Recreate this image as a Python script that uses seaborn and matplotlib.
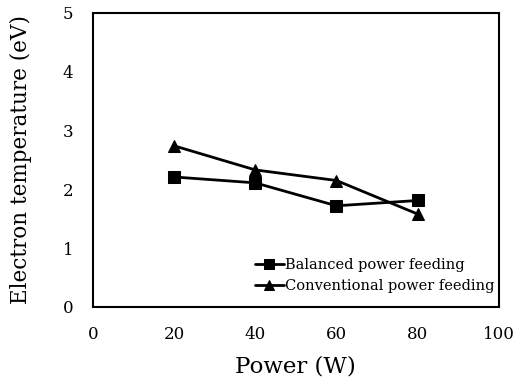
import matplotlib
matplotlib.use("Agg")
import matplotlib.pyplot as plt
import seaborn as sns
import pandas as pd

power = [20, 40, 60, 80]
balanced = [2.21, 2.11, 1.72, 1.81]
conventional = [2.74, 2.33, 2.15, 1.58]
series_names = ["Balanced power feeding", "Conventional power feeding"]
x_ticks = [0, 20, 40, 60, 80, 100]
y_ticks = [0, 1, 2, 3, 4, 5]

sns.set_theme(style="white")
plt.rcParams['font.family'] = ['DejaVu Serif']
plt.rcParams['text.color'] = 'black'
plt.rcParams['axes.labelcolor'] = 'black'
plt.rcParams['xtick.color'] = 'black'
plt.rcParams['ytick.color'] = 'black'

df = pd.DataFrame({
    "Power": power * 2,
    "Te": balanced + conventional,
    "Series": [series_names[0]] * 4 + [series_names[1]] * 4,
})

fig = plt.figure(figsize=(5.19, 3.91), dpi=100)
ax = fig.add_axes([0.179, 0.215, 0.782, 0.752])

sns.lineplot(data=df, x="Power", y="Te", hue="Series", style="Series",
             markers={series_names[0]: "s", series_names[1]: "^"},
             dashes=False, palette=["black", "black"], markersize=9,
             linewidth=2, markeredgecolor="black", ax=ax)

ax.set_xlim(0, 100)
ax.set_ylim(0, 5)
ax.set_xticks(x_ticks)
ax.set_yticks(y_ticks)
ax.tick_params(direction="in", length=5, width=0.8, color="#555555",
               labelcolor="black", labelsize=12, pad=14)
for s in ax.spines.values():
    s.set_color("black")
    s.set_linewidth(1.5)
ax.set_xlabel("Power (W)", fontsize=16.5, labelpad=9, color="black")
ax.set_ylabel("Electron temperature (eV)", fontsize=15.5, labelpad=22,
              color="black")

leg = ax.legend(loc="lower right", bbox_to_anchor=(1.005, 0.028),
                frameon=False, fontsize=10.5, borderaxespad=0,
                handlelength=2.0, handletextpad=0.1,
                labelspacing=0.45, markerscale=0.8)
for t in leg.get_texts():
    t.set_color("black")

fig.savefig("out.png", dpi=100)
